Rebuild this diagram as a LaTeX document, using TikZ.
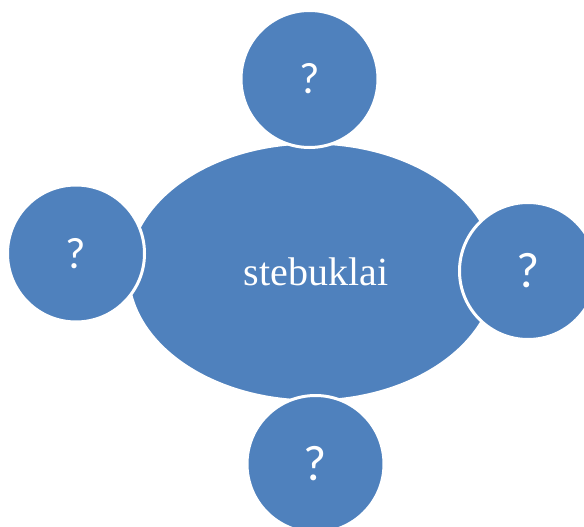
\documentclass[tikz,border=0pt]{standalone}
\usepackage{fontspec}
\usetikzlibrary{shapes.geometric}
\setmainfont{Liberation Serif}
\newfontfamily\qfont{Carlito}
\definecolor{blu}{HTML}{4F81BD}
\begin{document}
\begin{tikzpicture}[x=1pt,y=-1pt,
  satellite/.style={circle,fill=blu,draw=white,line width=3pt,text=white,font=\qfont\fontsize{44}{52}\selectfont,minimum size=137pt,inner sep=0pt},
  bigsat/.style={satellite,font=\qfont\fontsize{50}{58}\selectfont},
  hub/.style={ellipse,fill=blu,draw=white,line width=3pt,minimum width=368pt,minimum height=258pt,inner sep=0pt},
  hublabel/.style={text=white,font=\fontsize{40}{48}\selectfont,inner sep=0pt}]
\useasboundingbox (0,0) rectangle (584,527);
\node[hub] (c) at (312,272) {};
\node[hublabel] (ct) at (316,272) {stebuklai};
\node[satellite] (t) at (309.5,79) {?};
\node[satellite] (l) at (76,253.5) {?};
\node[bigsat] (r) at (528,271) {?};
\node[bigsat] (b) at (315.5,464) {?};
\end{tikzpicture}
\end{document}
